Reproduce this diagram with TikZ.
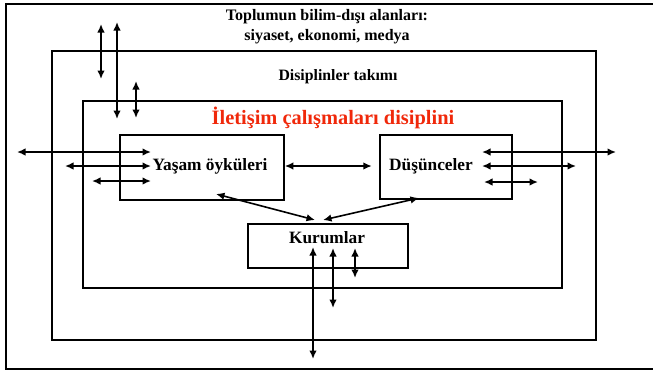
\documentclass[tikz,border=0pt]{standalone}
\usepackage{fontspec}
\setmainfont{Liberation Serif}
\usetikzlibrary{arrows.meta}
\definecolor{titlered}{RGB}{240,40,10}
\begin{document}
\begin{tikzpicture}[x=1pt,y=-1pt,
  frame/.style={draw, line width=1.8pt, inner sep=0pt, anchor=north west},
  dbl/.style={{Latex[length=8.5pt,width=7.5pt]}-{Latex[length=8.5pt,width=7.5pt]}, line width=1.6pt},
  lbl/.style={font=\bfseries\fontsize{17.3}{19}\selectfont, inner sep=0pt},
  toplbl/.style={font=\bfseries\fontsize{16}{18}\selectfont, inner sep=0pt}]
\useasboundingbox (0,0) rectangle (653,370);
\begin{scope}
  \clip (0,0) rectangle (653,370);
  \node[frame, minimum width=720pt, minimum height=365pt] (outer) at (5,3) {};
\end{scope}
\node[frame, minimum width=544pt, minimum height=289pt] (disc) at (51,50) {};
\node[frame, minimum width=479pt, minimum height=187pt] (comm) at (82,100) {};
\node[frame, minimum width=164pt, minimum height=65pt] (yasam) at (119,134) {};
\node[frame, minimum width=132pt, minimum height=64pt] (dusun) at (379,134) {};
\node[frame, minimum width=160pt, minimum height=44pt] (kurum) at (247,223) {};

\node[toplbl] (t1) at (327,17) {Toplumun bilim-dışı alanları:};
\node[toplbl] (t2) at (327,37) {siyaset, ekonomi, medya};
\node[font=\bfseries\fontsize{15.8}{18}\selectfont, inner sep=0pt] (t3) at (338,77) {Disiplinler takımı};
\node[font=\bfseries\fontsize{20.4}{22}\selectfont, text=titlered, inner sep=0pt] (t4) at (333,118) {İletişim çalışmaları disiplini};
\node[lbl] (ly) at (210,166) {Yaşam öyküleri};
\node[lbl] (ld) at (431,166) {Düşünceler};
\node[lbl] (lk) at (327,238) {Kurumlar};

% vertical arrows top-left
\coordinate (v1a) at (101,24); \coordinate (v1b) at (101,79);
\coordinate (v2a) at (117,22); \coordinate (v2b) at (117,119);
\coordinate (v3a) at (136,81); \coordinate (v3b) at (136,118);
\draw[dbl] (v1a) -- (v1b);
\draw[dbl] (v2a) -- (v2b);
\draw[dbl] (v3a) -- (v3b);

% left horizontal arrows
\coordinate (h1a) at (17,152); \coordinate (h1b) at (151,152);
\coordinate (h2a) at (65,166); \coordinate (h2b) at (151,166);
\coordinate (h3a) at (92,181); \coordinate (h3b) at (151,181);
\draw[dbl] (h1a) -- (h1b);
\draw[dbl] (h2a) -- (h2b);
\draw[dbl] (h3a) -- (h3b);

% between boxes
\draw[dbl] (yasam.east |- ly) -- ++(87,0) coordinate (m1);
\coordinate (dy) at (216,194); \coordinate (dk1) at (315,220);
\coordinate (dd) at (419,198); \coordinate (dk2) at (323,220);
\draw[dbl] (dy) -- (dk1);
\draw[dbl] (dd) -- (dk2);

% right horizontal arrows
\coordinate (r1a) at (482,152); \coordinate (r1b) at (616,152);
\coordinate (r2a) at (482,166); \coordinate (r2b) at (576,166);
\coordinate (r3a) at (484,182); \coordinate (r3b) at (538,182);
\draw[dbl] (r1a) -- (r1b);
\draw[dbl] (r2a) -- (r2b);
\draw[dbl] (r3a) -- (r3b);

% bottom verticals
\coordinate (k1a) at (313,247); \coordinate (k1b) at (313,359);
\coordinate (k2a) at (333,248); \coordinate (k2b) at (333,308);
\coordinate (k3a) at (355,248); \coordinate (k3b) at (355,278);
\draw[dbl] (k1a) -- (k1b);
\draw[dbl] (k2a) -- (k2b);
\draw[dbl] (k3a) -- (k3b);
\end{tikzpicture}
\end{document}
